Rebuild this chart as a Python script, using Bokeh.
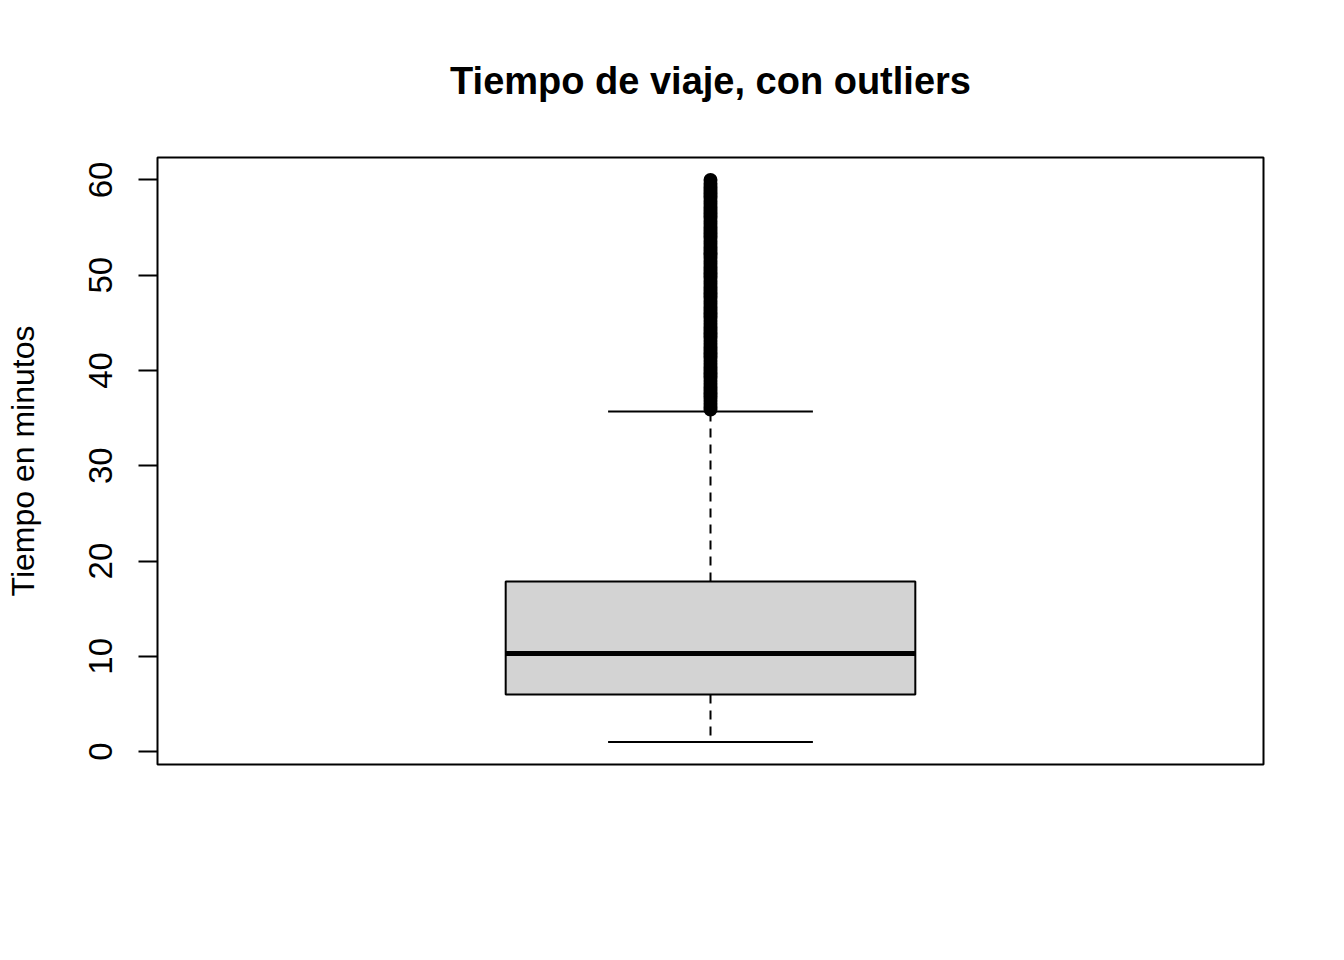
from bokeh.plotting import figure
from bokeh.models import Range1d, FixedTicker, ColumnDataSource
from bokeh.embed import file_html
from bokeh.resources import INLINE

# ---- data ----
group = [1.0]
q1 = [6.0]
median = [10.3]
q3 = [17.85]
whisker_low = [1.0]
whisker_high = [35.7]
outliers = [35.9, 36.2, 36.5, 36.8, 37.1, 37.4, 37.7, 38.0, 38.3, 38.6, 38.9, 39.2,
            39.5, 39.8, 40.1, 40.4, 40.7, 41.0, 41.3, 41.6, 41.9, 42.2, 42.5, 42.8,
            43.1, 43.4, 43.7, 44.0, 44.3, 44.6, 44.9, 45.2, 45.5, 45.8, 46.1, 46.4,
            46.7, 47.0, 47.3, 47.6, 47.9, 48.2, 48.5, 48.8, 49.1, 49.4, 49.7, 50.0,
            50.3, 50.6, 50.9, 51.2, 51.5, 51.8, 52.1, 52.4, 52.7, 53.0, 53.3, 53.6,
            53.9, 54.2, 54.5, 54.8, 55.1, 55.4, 55.7, 56.0, 56.3, 56.6, 56.9, 57.2,
            57.5, 57.8, 58.1, 58.4, 58.7, 59.0, 59.3, 59.6, 60.0]
y_ticks = [0, 10, 20, 30, 40, 50, 60]

title_text = "Tiempo de viaje, con outliers"
y_label = "Tiempo en minutos"

box_half = 0.2
cap_half = 0.1

p = figure(width=1344, height=960, output_backend="svg", toolbar_location=None,
           x_range=Range1d(0.46, 1.54), y_range=Range1d(-1.36, 62.36),
           min_border_left=157, min_border_right=81, min_border_top=157,
           min_border_bottom=196, title=title_text)

p.title.text_font = "Liberation Sans"
p.title.text_font_size = "38px"
p.title.text_font_style = "bold"
p.title.align = "center"
p.title.text_color = "black"
p.title.standoff = 112

p.background_fill_color = "white"
p.border_fill_color = "white"
p.outline_line_color = "black"
p.outline_line_width = 2
p.xgrid.visible = False
p.ygrid.visible = False
p.xaxis.visible = False

ya = p.yaxis[0]
ya.ticker = FixedTicker(ticks=y_ticks)
ya.axis_label = y_label
ya.axis_label_text_font = "Liberation Sans"
ya.axis_label_text_font_size = "32px"
ya.axis_label_text_font_style = "normal"
ya.axis_label_text_color = "black"
ya.axis_label_standoff = 46
ya.major_label_text_font = "Liberation Sans"
ya.major_label_text_font_size = "33px"
ya.major_label_text_color = "black"
ya.major_label_orientation = "parallel"
ya.major_label_standoff = 26
ya.major_tick_out = 19
ya.major_tick_in = 0
ya.major_tick_line_width = 2
ya.major_tick_line_color = "black"
ya.minor_tick_out = 0
ya.minor_tick_in = 0
ya.axis_line_color = None

src = ColumnDataSource(dict(
    x=group,
    left=[g - box_half for g in group],
    right=[g + box_half for g in group],
    cl=[g - cap_half for g in group],
    cr=[g + cap_half for g in group],
    q1=q1, q3=q3, med=median, lo=whisker_low, hi=whisker_high,
))

# whiskers (dashed)
p.segment(x0="x", y0="q3", x1="x", y1="hi", source=src, line_color="black",
          line_width=2, line_dash="9 7")
p.segment(x0="x", y0="q1", x1="x", y1="lo", source=src, line_color="black",
          line_width=2, line_dash="9 7")
# caps
p.segment(x0="cl", y0="hi", x1="cr", y1="hi", source=src, line_color="black", line_width=2)
p.segment(x0="cl", y0="lo", x1="cr", y1="lo", source=src, line_color="black", line_width=2)
# box
p.quad(left="left", right="right", bottom="q1", top="q3", source=src,
       fill_color="#D3D3D3", line_color="black", line_width=2)
# median
p.segment(x0="left", y0="med", x1="right", y1="med", source=src, line_color="black",
          line_width=5)
# outliers
p.scatter(x=[group[0]] * len(outliers), y=outliers, marker="circle", size=12,
          fill_color="black", line_color="black", line_width=2)

open("out.html", "w").write(file_html(p, INLINE))
